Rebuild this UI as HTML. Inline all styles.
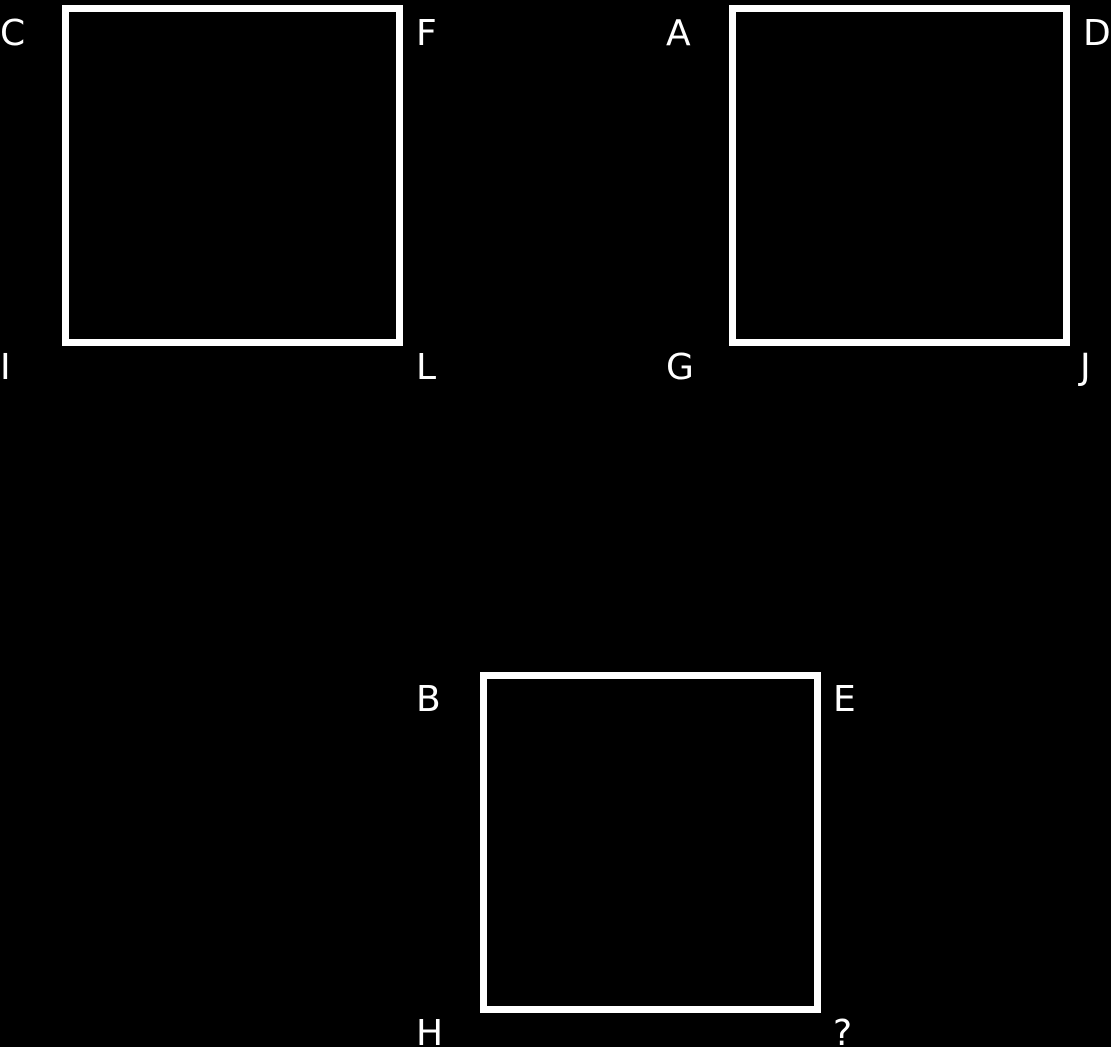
<!DOCTYPE html>
<html><head><meta charset="utf-8"><style>
html,body{margin:0;padding:0;background:#000;width:1111px;height:1047px;overflow:hidden}
text{font-family:"DejaVu Sans","Liberation Sans",sans-serif;font-size:36px;fill:#fff}
</style></head><body>
<svg width="1111" height="1047">
<rect x="65.5" y="8.5" width="334" height="334" fill="none" stroke="#fff" stroke-width="7"/>
<rect x="732.5" y="8.5" width="334" height="334" fill="none" stroke="#fff" stroke-width="7"/>
<rect x="483.5" y="675.5" width="334" height="334" fill="none" stroke="#fff" stroke-width="7"/>
<text x="0" y="45">C</text>
<text x="416" y="45">F</text>
<text x="0" y="379">I</text>
<text x="416" y="379">L</text>
<text x="666" y="45">A</text>
<text x="1083" y="45">D</text>
<text x="666" y="379">G</text>
<text x="1080" y="379">J</text>
<text x="416" y="711">B</text>
<text x="833" y="711">E</text>
<text x="416" y="1045">H</text>
<text x="833" y="1045">?</text>
</svg>
</body></html>
